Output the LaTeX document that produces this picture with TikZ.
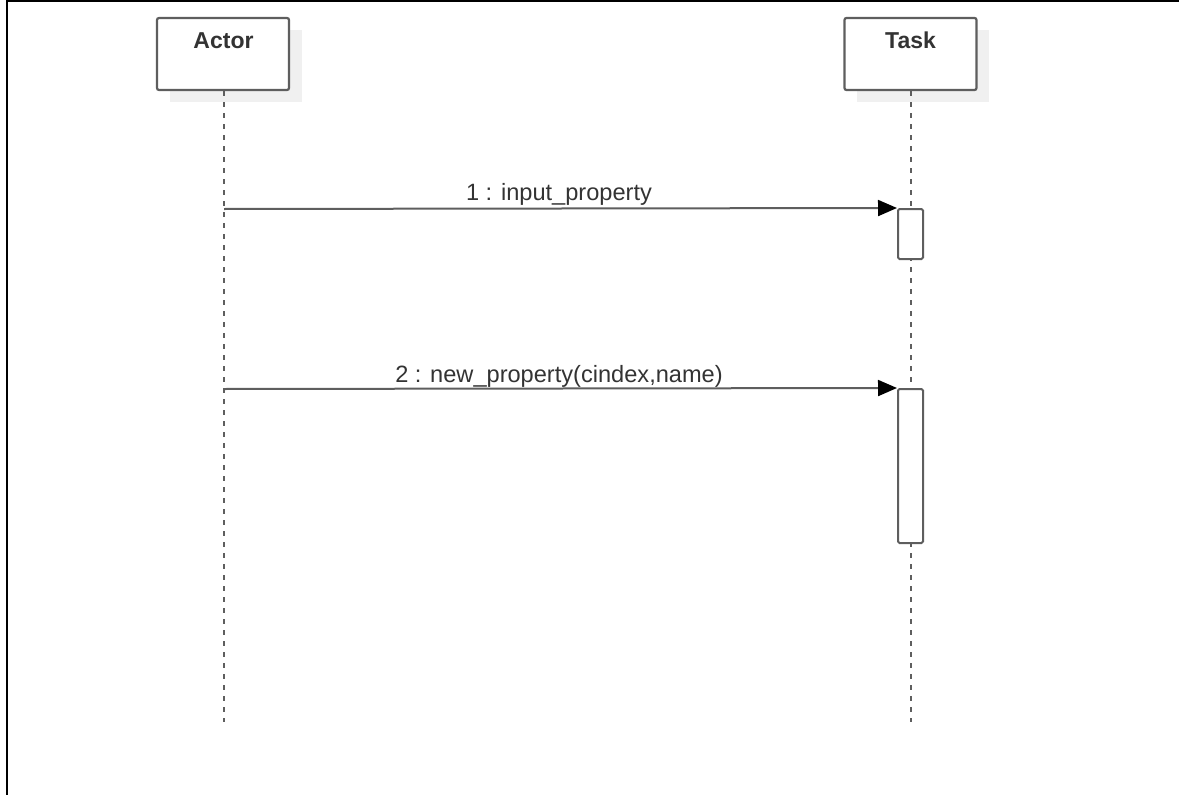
\documentclass[tikz,border=0pt]{standalone}
\usepackage{fontspec}
\setmainfont{Liberation Sans}
\usetikzlibrary{arrows.meta}
\definecolor{linegray}{HTML}{5E5E5E}
\definecolor{txtgray}{HTML}{333333}
\definecolor{shadowgray}{HTML}{F0F0F0}
\tikzset{
  objbox/.style={draw=linegray, line width=2.2pt, fill=white, rounded corners=2pt, minimum width=132pt, minimum height=72pt, inner sep=0pt},
  objshadow/.style={fill=shadowgray, draw=none, minimum width=132pt, minimum height=72pt, inner sep=0pt},
  objname/.style={font=\fontsize{23}{27}\selectfont\bfseries, text=txtgray, inner sep=0pt},
  lifeline/.style={draw=linegray, line width=2pt, dash pattern=on 5pt off 6pt},
  actbox/.style={draw=linegray, line width=2pt, fill=white, rounded corners=1.5pt, minimum width=25pt, inner sep=0pt},
  msg/.style={draw=linegray, line width=2pt, -{Triangle[length=19pt,width=16pt,fill=black,color=black]}},
  msglabel/.style={font=\fontsize{23.6}{28}\selectfont, text=txtgray, inner sep=0pt, anchor=base},
  frameline/.style={draw=black, line width=2.6pt}
}
\begin{document}
\begin{tikzpicture}[x=1pt,y=-1pt]
\useasboundingbox (0,0) rectangle (1179,795);
% frame
\coordinate (ftl) at (7,1);
\coordinate (ftr) at (1179,1);
\coordinate (fbl) at (7,795);
\draw[frameline] (fbl) -- (ftl) -- (ftr);
% shadows
\node[objshadow] (actorsh) at (236,66) {};
\node[objshadow] (tasksh) at (923,66) {};
% lifelines
\coordinate (actorend) at (224,722);
\coordinate (taskend) at (911,722);
\node[objbox] (actor) at (223,54) {};
\node[objbox] (task) at (910.5,54) {};
\draw[lifeline] (actor.south -| actorend) -- (actorend);
\draw[lifeline] (task.south -| taskend) -- (taskend);
\node[objname, anchor=base] (actorlbl) at (223.5,48) {Actor};
\node[objname, anchor=base] (tasklbl) at (910.5,48) {Task};
% activations
\node[actbox, minimum height=50pt] (act1) at (910.5,234) {};
\node[actbox, minimum height=154pt] (act2) at (910.5,466) {};
% messages
\coordinate (m1s) at (224,209);
\coordinate (m2s) at (224,389);
\draw[msg] (m1s) -- (act1.north west);
\draw[msg] (m2s) -- (act2.north west);
\node[msglabel] (l1) at (559,200) {1 : input\_property};
\node[msglabel] (l2) at (559,382) {2 : new\_property(cindex,name)};
\end{tikzpicture}
\end{document}
